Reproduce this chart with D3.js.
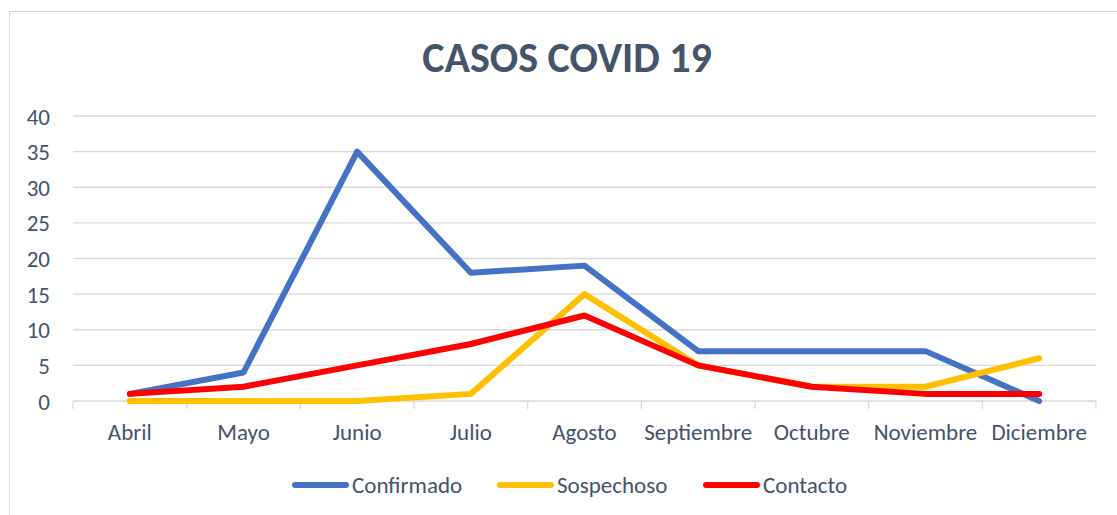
<!DOCTYPE html>
<html>
<head>
<meta charset="utf-8">
<script src="https://cdn.jsdelivr.net/npm/d3@7"></script>
<style>
  body { margin: 0; background: #fff; }
  svg text { font-family: Carlito, "Open Sans", "Liberation Sans", sans-serif; fill: #44546A; }
</style>
</head>
<body>
<div id="chart"></div>
<script>
// data
const months = ["Abril", "Mayo", "Junio", "Julio", "Agosto", "Septiembre", "Octubre", "Noviembre", "Diciembre"];
const confirmado = [1, 4, 35, 18, 19, 7, 7, 7, 0];
const sospechoso = [0, 0, 0, 1, 15, 5, 2, 2, 6];
const contacto = [1, 2, 5, 8, 12, 5, 2, 1, 1];
const yTicks = [0, 5, 10, 15, 20, 25, 30, 35, 40];
const seriesNames = ["Confirmado", "Sospechoso", "Contacto"];
const seriesColors = ["#4472C4", "#FFC000", "#FF0000"];

let w = 1117, h = 515;
let plotLeft = 73, plotRight = 1096, plotTop = 116, plotBottom = 401;

let svg = d3.select("#chart").append("svg")
    .attr("width", w)
    .attr("height", h);

// chart border
svg.append("rect")
    .attr("x", 9.5).attr("y", 11.5)
    .attr("width", w - 9).attr("height", h)
    .attr("fill", "none")
    .attr("stroke", "#D9D9D9");

svg.append("text")
    .attr("x", 567).attr("y", 72)
    .attr("text-anchor", "middle")
    .style("font-size", "42px")
    .style("font-weight", "bold")
    .text("CASOS COVID 19");

let xScale = d3.scaleBand().domain(months).range([plotLeft, plotRight]);
let yScale = d3.scaleLinear().domain([0, 40]).range([plotBottom, plotTop]);

// gridlines
svg.append("g")
    .selectAll("line")
    .data(yTicks.filter(d => d > 0))
    .enter()
    .append("line")
    .attr("x1", plotLeft).attr("x2", plotRight)
    .attr("y1", d => yScale(d)).attr("y2", d => yScale(d))
    .attr("stroke", "#D9D9D9")
    .attr("stroke-width", 1.3);

// y axis labels
let yAxis = d3.axisLeft(yScale).tickValues(yTicks).tickSize(0).tickPadding(0);
let yg = svg.append("g")
    .attr("transform", "translate(50,0)")
    .call(yAxis);
yg.select(".domain").remove();
yg.selectAll("text")
    .attr("x", 0)
    .attr("dy", "0.35em")
    .style("font-size", "23px")
    .attr("text-anchor", "end");

// x axis with ticks between categories
let xg = svg.append("g")
    .attr("transform", "translate(0," + plotBottom + ")");
xg.append("line")
    .attr("x1", plotLeft).attr("x2", plotRight)
    .attr("stroke", "#D9D9D9").attr("stroke-width", 1.3);
let bounds = months.map(m => xScale(m)).concat([plotRight]);
xg.selectAll("line.tick")
    .data(bounds)
    .enter()
    .append("line")
    .attr("class", "tick")
    .attr("x1", d => d).attr("x2", d => d)
    .attr("y1", 0).attr("y2", 8)
    .attr("stroke", "#D9D9D9").attr("stroke-width", 1.3);
xg.selectAll("text")
    .data(months)
    .enter()
    .append("text")
    .attr("x", d => xScale(d) + xScale.bandwidth() / 2)
    .attr("y", 39)
    .attr("text-anchor", "middle")
    .style("font-size", "23px")
    .text(d => d);

// lines
let line = d3.line()
    .x((d, i) => xScale(months[i]) + xScale.bandwidth() / 2)
    .y(d => yScale(d));

[confirmado, sospechoso, contacto].forEach(function(s, i) {
    svg.append("path")
        .datum(s)
        .attr("d", line)
        .attr("fill", "none")
        .attr("stroke", seriesColors[i])
        .attr("stroke-width", 6)
        .attr("stroke-linejoin", "round")
        .attr("stroke-linecap", "round");
});

// legend
let legendX = [295, 500, 706];
let legend = svg.append("g");
seriesNames.forEach(function(name, i) {
    legend.append("line")
        .attr("x1", legendX[i]).attr("x2", legendX[i] + 51)
        .attr("y1", 485).attr("y2", 485)
        .attr("stroke", seriesColors[i])
        .attr("stroke-width", 6)
        .attr("stroke-linecap", "round");
    legend.append("text")
        .attr("x", legendX[i] + 57)
        .attr("y", 493)
        .style("font-size", "23px")
        .text(name);
});
</script>
</body>
</html>
